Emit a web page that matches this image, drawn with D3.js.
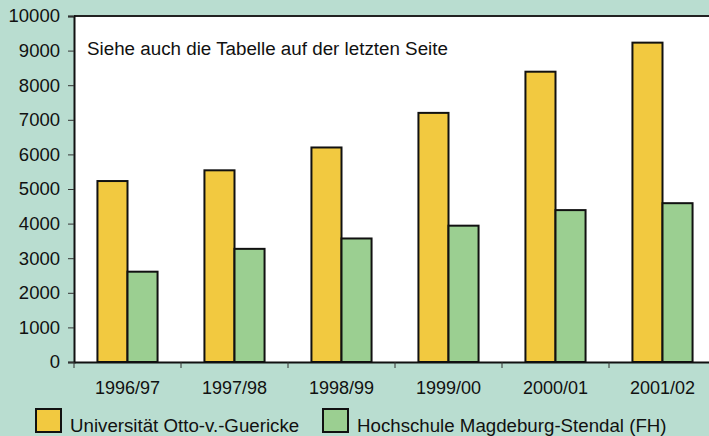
<!DOCTYPE html>
<html>
<head>
<meta charset="utf-8">
<script src="https://cdn.jsdelivr.net/npm/d3@7"></script>
<style>
  body { margin: 0; background: #b9ddd0; }
  svg { display: block; font-family: "Liberation Sans", Arial, sans-serif; }
</style>
</head>
<body>
<script>
// data
const years = ["1996/97", "1997/98", "1998/99", "1999/00", "2000/01", "2001/02"];
const uni = [5230, 5540, 6200, 7200, 8390, 9230];
const fh = [2610, 3270, 3570, 3940, 4390, 4590];
const seriesNames = ["Universität Otto-v.-Guericke", "Hochschule Magdeburg-Stendal (FH)"];
const colors = ["#f2c940", "#9bcf91"];
const yTicks = [0, 1000, 2000, 3000, 4000, 5000, 6000, 7000, 8000, 9000, 10000];

const width = 709, height = 436;
const mLeft = 74, mTop = 16, mBottom = 362, mRight = 716;
const font = "Liberation Sans, Arial, sans-serif";

const svg = d3.select("body").append("svg")
  .attr("width", width)
  .attr("height", height);

svg.append("rect")
  .attr("width", width).attr("height", height)
  .attr("fill", "#b9ddd0");

const x = d3.scaleBand().domain(years).range([mLeft, mRight]);
const xInner = d3.scaleBand().domain([0, 1]).range([0, x.bandwidth()]).paddingOuter(0.78).paddingInner(0);
const y = d3.scaleLinear().domain([0, 10000]).range([mBottom, mTop]);

// plot area
svg.append("rect")
  .attr("x", mLeft).attr("y", mTop)
  .attr("width", mRight - mLeft).attr("height", mBottom - mTop)
  .attr("fill", "#ffffff");

svg.append("line")
  .attr("x1", mLeft).attr("x2", mRight)
  .attr("y1", mTop).attr("y2", mTop)
  .attr("stroke", "#222").attr("stroke-width", 2);

// bars
const groups = svg.append("g").selectAll("g")
  .data(years)
  .join("g")
  .attr("transform", d => `translate(${x(d)},0)`);

groups.selectAll("rect")
  .data((d, i) => [uni[i], fh[i]])
  .join("rect")
  .attr("x", (d, j) => xInner(j))
  .attr("width", xInner.bandwidth())
  .attr("y", d => y(d))
  .attr("height", d => mBottom - y(d))
  .attr("fill", (d, j) => colors[j])
  .attr("stroke", "#111")
  .attr("stroke-width", 2);

// y axis
const yAxis = svg.append("g")
  .attr("transform", `translate(${mLeft},0)`)
  .call(d3.axisLeft(y).tickValues(yTicks).tickFormat(d3.format("d")).tickSize(6).tickPadding(8));
yAxis.select(".domain").attr("stroke", "#111").attr("stroke-width", 2);
yAxis.selectAll(".tick line").attr("stroke", "#333");
yAxis.selectAll("text").attr("font-size", 18.5).attr("fill", "#111")
  .attr("font-family", font);

// x axis
const xAxis = svg.append("g")
  .attr("transform", `translate(0,${mBottom})`)
  .call(d3.axisBottom(x).tickSize(0).tickPadding(19));
xAxis.select(".domain").attr("stroke", "#111").attr("stroke-width", 2);
xAxis.selectAll("text").attr("font-size", 18).attr("fill", "#111")
  .attr("font-family", font);

// category separators
svg.append("g").selectAll("line")
  .data(years.concat(["end"]))
  .join("line")
  .attr("x1", (d, i) => i < years.length ? x(d) : mRight)
  .attr("x2", (d, i) => i < years.length ? x(d) : mRight)
  .attr("y1", mBottom).attr("y2", mBottom + 6)
  .attr("stroke", "#333");

// note
svg.append("text")
  .attr("x", 87).attr("y", 55)
  .attr("font-size", 18.8).attr("fill", "#111")
  .attr("font-family", font)
  .text("Siehe auch die Tabelle auf der letzten Seite");

// legend
const legendX = [36, 323];
const legend = svg.append("g").selectAll("g")
  .data(seriesNames)
  .join("g")
  .attr("transform", (d, i) => `translate(${legendX[i]},409)`);
legend.append("rect")
  .attr("width", 25).attr("height", 23)
  .attr("fill", (d, i) => colors[i])
  .attr("stroke", "#111").attr("stroke-width", 2);
legend.append("text")
  .attr("x", 34).attr("y", 23)
  .attr("font-size", 18.7).attr("fill", "#111")
  .attr("font-family", font)
  .text(d => d);
</script>
</body>
</html>
